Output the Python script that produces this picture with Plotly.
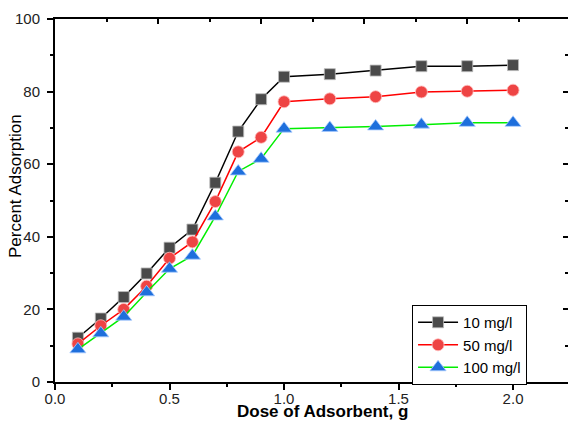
import plotly.graph_objects as go

dose = [0.1, 0.2, 0.3, 0.4, 0.5, 0.6, 0.7, 0.8, 0.9, 1.0, 1.2, 1.4, 1.6, 1.8, 2.0]
ads_10 = [12.2, 17.5, 23.4, 29.9, 37.0, 42.0, 54.9, 69.0, 77.9, 84.1, 84.8, 85.8, 87.0, 87.0, 87.3]
ads_50 = [10.5, 15.5, 20.0, 26.4, 34.1, 38.6, 49.7, 63.4, 67.4, 77.2, 78.0, 78.6, 79.9, 80.1, 80.4]
ads_100 = [9.0, 13.4, 18.0, 24.7, 31.2, 34.8, 45.6, 58.0, 61.5, 69.8, 70.0, 70.4, 70.9, 71.4, 71.4]
names = ["10 mg/l", "50 mg/l", "100 mg/l"]
x_title = "Dose of Adsorbent, g"
y_title = "Percent Adsorption"

FONT = "Liberation Sans, Arial, sans-serif"

fig = go.Figure()
fig.add_trace(go.Scatter(x=dose, y=ads_10, name=names[0], mode="lines+markers",
                         line=dict(color="black", width=1.5),
                         marker=dict(symbol="square", size=11, color="#4a4a4a",
                                     line=dict(color="#bbbbbb", width=0.8))))
fig.add_trace(go.Scatter(x=dose, y=ads_50, name=names[1], mode="lines+markers",
                         line=dict(color="#ff0000", width=1.5),
                         marker=dict(symbol="circle", size=12, color="#ee4444",
                                     line=dict(color="#ffbbbb", width=0.8))))
fig.add_trace(go.Scatter(x=dose, y=ads_100, name=names[2], mode="lines+markers",
                         line=dict(color="#00ee00", width=1.5),
                         marker=dict(symbol="triangle-up", size=14, color="#1e6fdc",
                                     line=dict(color="#aaccff", width=0.8))))

axfont = dict(family=FONT, size=15, color="#222")

fig.update_layout(
    width=568, height=421,
    margin=dict(l=55, r=0, t=19, b=39),
    paper_bgcolor="white", plot_bgcolor="white",
    showlegend=True,
    legend=dict(x=0.696, y=0.212, xanchor="left", yanchor="top",
                bordercolor="black", borderwidth=1, bgcolor="white",
                font=dict(family=FONT, size=15, color="black"),
                tracegroupgap=0, itemwidth=40),
    xaxis=dict(range=[0, 2.24], dtick=0.5, tick0=0, tickformat=".1f",
               showgrid=False, zeroline=False, showline=True, linecolor="black", linewidth=2,
               ticks="outside", ticklen=6, tickwidth=1.5, tickcolor="black",
               minor=dict(dtick=0.25, ticks="outside", ticklen=3, tickwidth=1.5, tickcolor="black"),
               tickfont=axfont, ticklabelstandoff=-4),
    yaxis=dict(range=[0, 100], dtick=20, tick0=0,
               showgrid=False, zeroline=False, showline=True, linecolor="black", linewidth=2,
               ticks="outside", ticklen=6, tickwidth=1.5, tickcolor="black",
               minor=dict(dtick=10, ticks="outside", ticklen=3, tickwidth=1.5, tickcolor="black"),
               tickfont=axfont, ticklabelstandoff=4),
    xaxis2=dict(overlaying="x", side="top", range=[0, 4.98], dtick=1, tick0=0,
                showticklabels=False, showgrid=False, zeroline=False,
                showline=True, linecolor="black", linewidth=2,
                ticks="inside", ticklen=5, tickwidth=1.5, tickcolor="black",
                minor=dict(dtick=0.5, ticks="inside", ticklen=3, tickwidth=1.5, tickcolor="black")),
    yaxis2=dict(overlaying="y", side="right", range=[0, 100], dtick=20,
                showticklabels=False, showgrid=False, zeroline=False,
                showline=True, linecolor="black", linewidth=2,
                ticks="inside", ticklen=5, tickwidth=1.5, tickcolor="black",
                minor=dict(dtick=10, ticks="inside", ticklen=3, tickwidth=1.5, tickcolor="black")),
    annotations=[
        dict(text="<b>" + x_title + "</b>", xref="paper", yref="paper",
             x=0.522, y=-0.08, xanchor="center", yanchor="middle", showarrow=False,
             font=dict(family=FONT, size=17, color="black")),
        dict(text=y_title, xref="paper", yref="paper", textangle=-90,
             x=-0.076, y=0.54, xanchor="center", yanchor="middle", showarrow=False,
             font=dict(family=FONT, size=17, color="black")),
    ],
)
# invisible trace to activate the secondary axes
fig.add_trace(go.Scatter(x=[None], y=[None], xaxis="x2", yaxis="y2", showlegend=False, hoverinfo="skip"))

fig.write_html("out.html")
